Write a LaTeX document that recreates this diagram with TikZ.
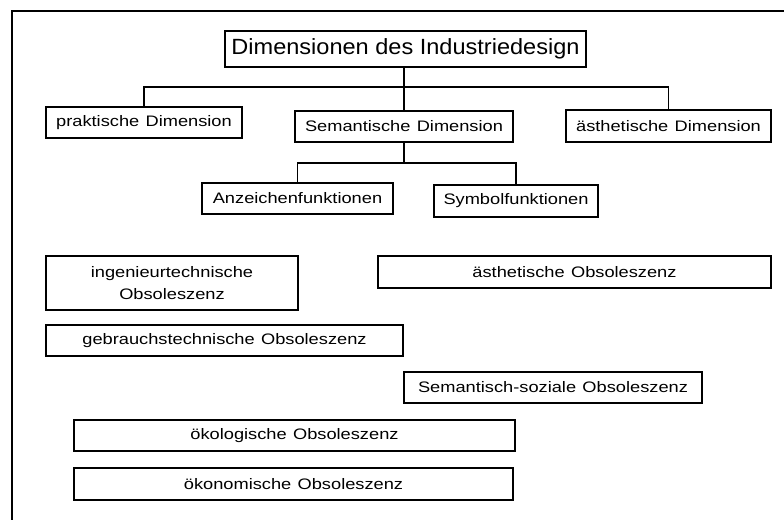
\documentclass[tikz,border=0pt]{standalone}
\usepackage{fontspec}
\newfontfamily\boxfont[FakeStretch=1.2,WordSpace=1.25]{Liberation Sans}
\newfontfamily\headfont[FakeStretch=1.07]{Liberation Sans}
\begin{document}
\begin{tikzpicture}[x=0.75pt,y=-0.75pt,
  box/.style={draw=black, line width=1.15pt, rectangle, inner sep=0pt,
    font=\boxfont\fontsize{11.4pt}{16.5pt}\selectfont, align=center},
  headbox/.style={box, font=\headfont\fontsize{16.5pt}{20pt}\selectfont},
  link/.style={draw=black, line width=1.15pt}]
  \useasboundingbox (0,0) rectangle (784,520);
  % outer frame, running past the right and bottom edges
  \draw[line width=1.15pt] (12,520) -- (12,11) -- (784,11);

  % hierarchy of design dimensions
  \node[headbox, minimum width=270.75pt, minimum height=27pt] (title) at (405.5,49) {Dimensionen des Industriedesign};
  \node[box, minimum width=147pt, minimum height=23.25pt] (prak) at (144,122.5) {praktische Dimension};
  \node[box, minimum width=163.5pt, minimum height=23.25pt] (sem) at (404,126.5) {Semantische Dimension};
  \node[box, minimum width=153.75pt, minimum height=24pt] (aest) at (668.5,126) {ästhetische Dimension};
  \node[box, minimum width=143.25pt, minimum height=23.25pt] (anz) at (297.5,198.5) {Anzeichenfunktionen};
  \node[box, minimum width=123pt, minimum height=24pt] (sym) at (516,201) {Symbolfunktionen};

  \coordinate (bus1) at (404,87);
  \coordinate (bus2) at (404,163);
  \draw[link] (title.south -| sem.north) -- (sem.north);
  \draw[link] (prak.north) |- (bus1) -| (aest.north);
  \draw[link] (sem.south) -- (bus2);
  \draw[link] (anz.north) |- (bus2) -| (sym.north);

  % kinds of obsolescence
  \node[box, minimum width=189pt, minimum height=40.5pt] (ing) at (172,283) {ingenieurtechnische\\Obsoleszenz};
  \node[box, minimum width=294.75pt, minimum height=24pt] (aobs) at (574.5,272) {ästhetische Obsoleszenz};
  \node[box, minimum width=267.75pt, minimum height=23.25pt] (geb) at (224.5,340.5) {gebrauchstechnische Obsoleszenz};
  \node[box, minimum width=223.5pt, minimum height=23.25pt] (soz) at (553,387.5) {Semantisch-soziale Obsoleszenz};
  \node[box, minimum width=330.75pt, minimum height=23.25pt] (oeko) at (294.5,435.5) {ökologische Obsoleszenz};
  \node[box, minimum width=329.25pt, minimum height=24pt] (oekon) at (293.5,484) {ökonomische Obsoleszenz};
\end{tikzpicture}
\end{document}
